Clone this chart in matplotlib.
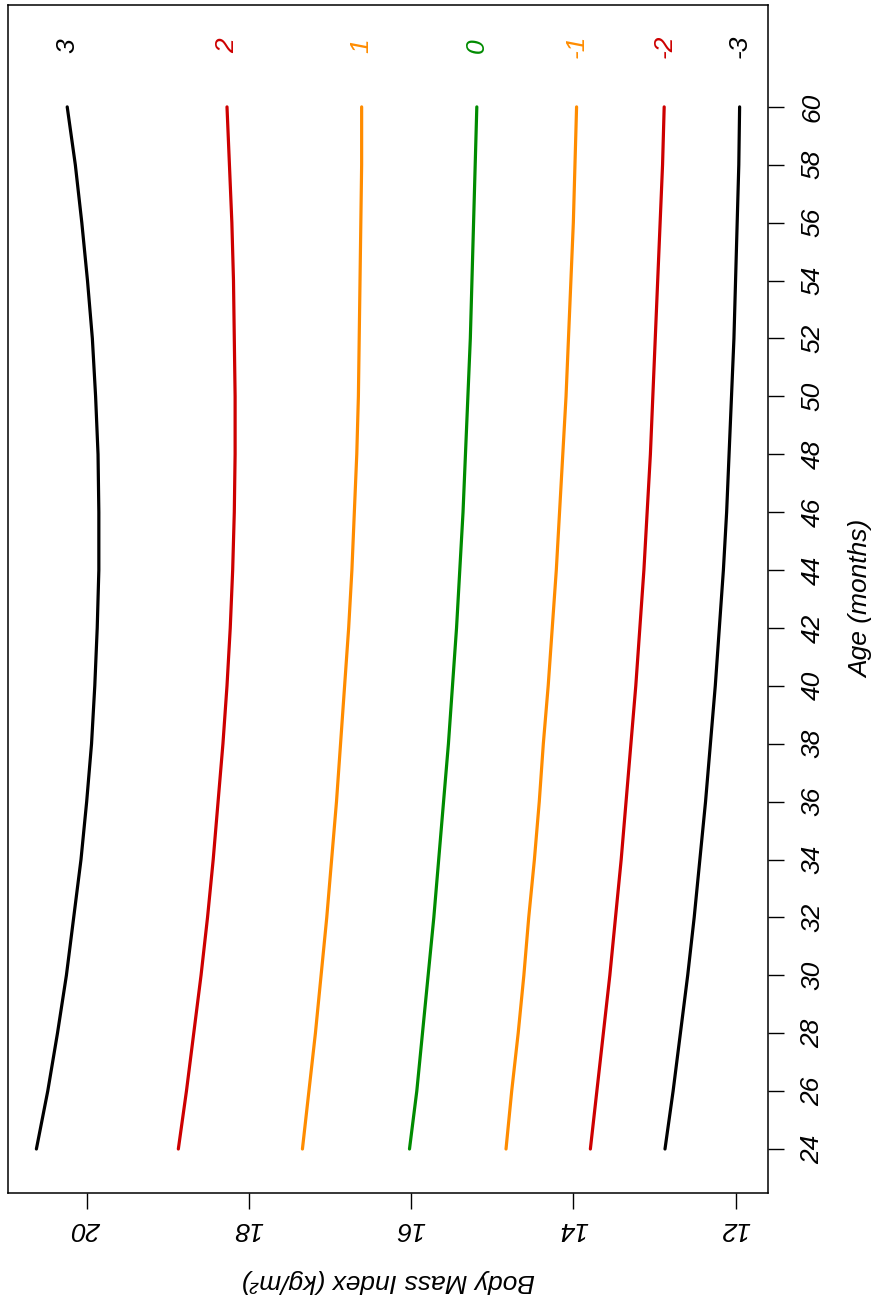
import matplotlib
matplotlib.use("Agg")
import matplotlib.pyplot as plt

plt.rcParams['font.family'] = ['Liberation Sans', 'DejaVu Sans']
plt.rcParams['font.style'] = 'italic'

# WHO BMI-for-age z-score curves, boys 24-60 months
age = [24, 26, 28, 30, 32, 34, 36, 38, 40, 42, 44, 46, 48, 50, 52, 54, 56, 58, 60]
sd3 = [20.62, 20.48, 20.36, 20.25, 20.16, 20.07, 20.00, 19.94, 19.90, 19.87,
       19.85, 19.85, 19.86, 19.89, 19.93, 19.99, 20.06, 20.14, 20.24]
sd2 = [18.87, 18.77, 18.68, 18.59, 18.51, 18.44, 18.38, 18.32, 18.27, 18.23,
       18.20, 18.18, 18.17, 18.17, 18.18, 18.19, 18.21, 18.24, 18.27]
sd1 = [17.34, 17.26, 17.18, 17.11, 17.04, 16.98, 16.92, 16.87, 16.82, 16.77,
       16.73, 16.70, 16.67, 16.65, 16.64, 16.63, 16.62, 16.61, 16.61]
sd0 = [16.02, 15.93, 15.86, 15.79, 15.72, 15.66, 15.60, 15.54, 15.49, 15.44,
       15.40, 15.36, 15.33, 15.30, 15.27, 15.25, 15.23, 15.21, 15.19]
sdm1 = [14.83, 14.76, 14.68, 14.61, 14.55, 14.48, 14.42, 14.37, 14.31, 14.26,
        14.21, 14.17, 14.13, 14.09, 14.06, 14.03, 14.00, 13.98, 13.96]
sdm2 = [13.79, 13.71, 13.63, 13.55, 13.48, 13.41, 13.35, 13.29, 13.23, 13.18,
        13.13, 13.09, 13.05, 13.02, 12.99, 12.96, 12.93, 12.90, 12.88]
sdm3 = [12.87, 12.77, 12.68, 12.59, 12.51, 12.44, 12.37, 12.31, 12.25, 12.20,
        12.15, 12.11, 12.08, 12.05, 12.02, 12.00, 11.98, 11.96, 11.95]

curves = [sd3, sd2, sd1, sd0, sdm1, sdm2, sdm3]
z_labels = ["3", "2", "1", "0", "-1", "-2", "-3"]
colors = ["black", "#CD0000", "#FF8C00", "#008B00", "#FF8C00", "#CD0000", "black"]

age_ticks = list(range(24, 61, 2))
bmi_ticks = [12, 14, 16, 18, 20]

fig = plt.figure(figsize=(8.88, 13.13), dpi=100)
ax = fig.add_axes([8 / 888, 1 - 1193 / 1313, 760 / 888, 1188 / 1313])

# plot is drawn turned on its side: BMI runs across, age runs up
for vals, lab, col in zip(curves, z_labels, colors):
    ax.plot(vals, age, color=col, lw=2.3, solid_capstyle='round')
    ax.text(vals[-1], 62.1, lab, color=col, rotation=90,
            ha='center', va='center', fontsize=19)

ax.set_xlim(20.97, 11.60)
ax.set_ylim(22.48, 63.52)

ax.set_xticks(bmi_ticks)
ax.set_xticklabels([str(t) for t in bmi_ticks], rotation=180, fontsize=19)
ax.yaxis.tick_right()
ax.set_yticks(age_ticks)
ax.set_yticklabels([str(t) for t in age_ticks], rotation=90, fontsize=19,
                   va='center')
ax.tick_params(axis='x', direction='out', length=11.5, width=1, pad=6)
ax.tick_params(axis='y', direction='out', length=11.5, width=1, pad=12)

ax.set_xlabel("Body Mass Index (kg/m²)", rotation=180, fontsize=19, labelpad=20)
ax.yaxis.set_label_position('right')
ax.set_ylabel("Age (months)", rotation=90, fontsize=19, labelpad=18)

for s in ax.spines.values():
    s.set_linewidth(1.1)

fig.savefig("out.png", dpi=100)
